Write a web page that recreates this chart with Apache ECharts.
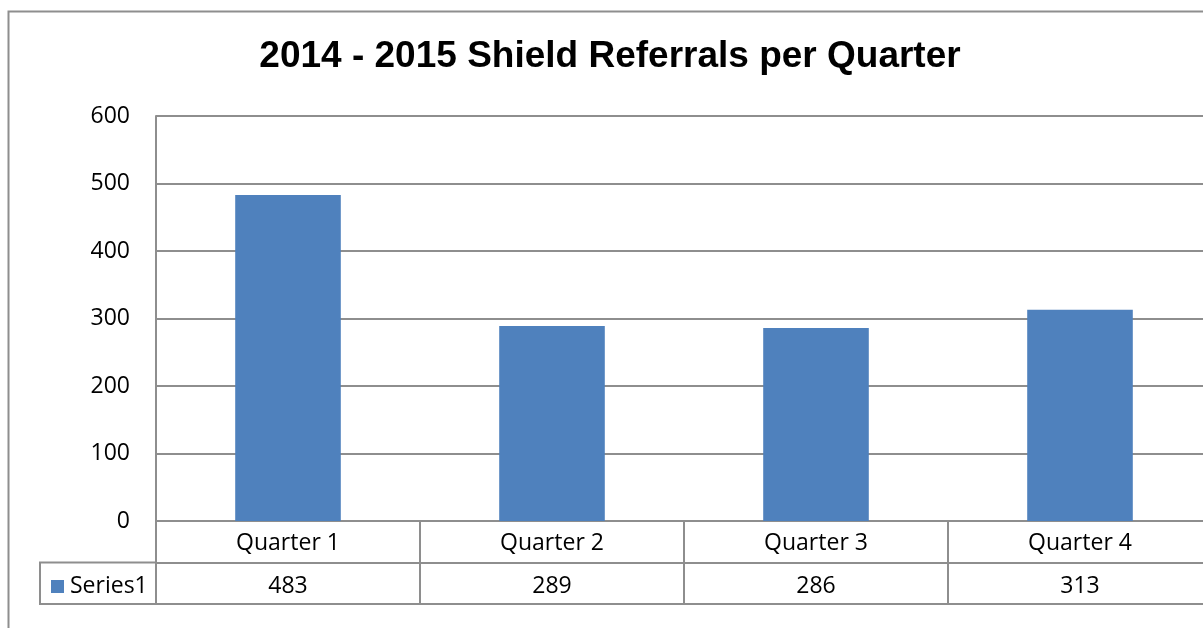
<!DOCTYPE html>
<html>
<head>
<meta charset="utf-8">
<script src="https://cdn.jsdelivr.net/npm/echarts@6/dist/echarts.min.js"></script>
<style>
html,body{margin:0;padding:0;overflow:hidden;background:#fff;width:1203px;height:628px;}
#c{width:1240px;height:628px;}
</style>
</head>
<body>
<div id="c"></div>
<script>
const title = '2014 - 2015 Shield Referrals per Quarter';
const categories = ['Quarter 1', 'Quarter 2', 'Quarter 3', 'Quarter 4'];
const seriesName = 'Series1';
const series1 = [483, 289, 286, 313];
const yMin = 0, yMax = 600, yStep = 100;

const gray = '#8e8e8e';
const font = '"Open Sans", "Noto Sans", sans-serif';
const fs = 23;
const chart = echarts.init(document.getElementById('c'), null, {renderer: 'canvas'});
const W = 1240;
const plotLeft = 156, plotRight = 1212, plotTop = 116, plotBottom = 521;
const rowH = 41.5;

chart.setOption({
  animation: false,
  backgroundColor: '#fff',
  title: {
    text: title, left: 605, top: 33, textAlign: 'center',
    textStyle: {fontFamily: '"Liberation Sans", Arial, sans-serif', fontWeight: 'bold', fontSize: 37, color: '#000'}
  },
  legend: {
    data: [{name: seriesName, icon: 'rect'}],
    left: 46, top: 570, itemWidth: 13, itemHeight: 13, itemGap: 8,
    textStyle: {fontFamily: font, fontSize: fs, color: '#000', padding: [0,0,0,1]}
  },
  grid: {left: plotLeft, right: W - plotRight, top: plotTop, bottom: 628 - plotBottom},
  xAxis: [
    {
      type: 'category', data: categories, position: 'bottom',
      axisLine: {show: true, lineStyle: {color: gray, width: 2}},
      axisTick: {show: true, alignWithLabel: false, length: rowH * 2, lineStyle: {color: gray, width: 2}},
      axisLabel: {fontFamily: font, fontSize: fs, color: '#000', margin: 11}
    },
    {
      type: 'category', data: categories, position: 'bottom', offset: rowH,
      axisLine: {show: true, lineStyle: {color: gray, width: 2}},
      axisTick: {show: false},
      axisLabel: {fontFamily: font, fontSize: fs, color: '#000', margin: 12,
        formatter: (v, i) => String(series1[i])}
    },
    {
      type: 'category', data: categories, position: 'bottom', offset: rowH * 2,
      axisLine: {show: true, lineStyle: {color: gray, width: 2}},
      axisTick: {show: false}, axisLabel: {show: false}
    }
  ],
  yAxis: {
    type: 'value', min: yMin, max: yMax, interval: yStep,
    axisLine: {show: true, lineStyle: {color: gray, width: 2}},
    axisTick: {show: false},
    splitLine: {show: true, lineStyle: {color: gray, width: 2}},
    axisLabel: {fontFamily: font, fontSize: fs, color: '#000', margin: 26}
  },
  series: [{
    name: seriesName, type: 'bar', data: series1, xAxisIndex: 0,
    barWidth: '40%', itemStyle: {color: '#4f81bd'}
  }],
  graphic: [
    {type: 'rect', shape: {x: 8.5, y: 11.5, width: 1300, height: 700}, style: {fill: null, stroke: gray, lineWidth: 2}, silent: true, z: -1},
    {type: 'line', shape: {x1: 39, y1: plotBottom + rowH, x2: plotLeft, y2: plotBottom + rowH}, style: {stroke: gray, lineWidth: 2}},
    {type: 'line', shape: {x1: 39, y1: plotBottom + rowH * 2, x2: plotLeft, y2: plotBottom + rowH * 2}, style: {stroke: gray, lineWidth: 2}},
    {type: 'line', shape: {x1: 40, y1: plotBottom + rowH, x2: 40, y2: plotBottom + rowH * 2}, style: {stroke: gray, lineWidth: 2}}
  ]
});
</script>
</body>
</html>
